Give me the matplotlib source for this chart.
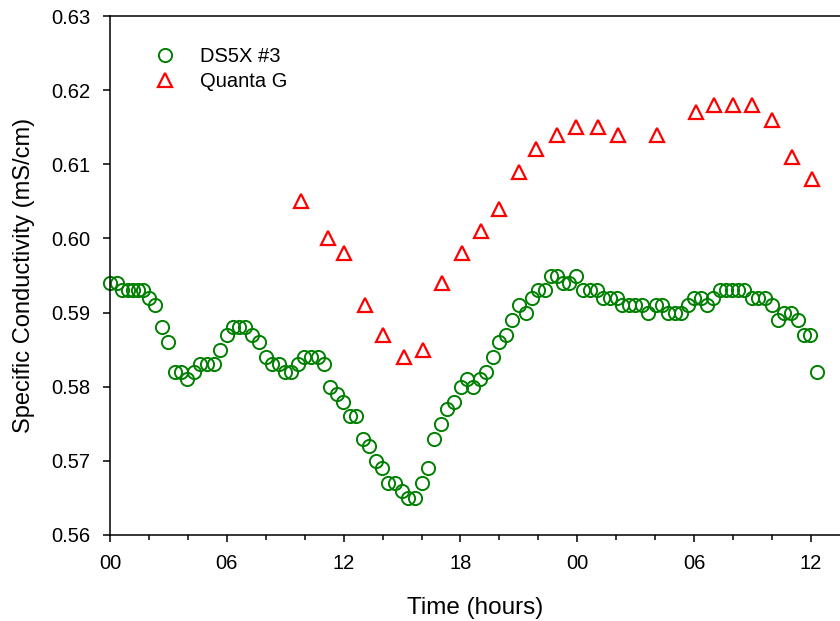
import numpy as np
import matplotlib
matplotlib.use("Agg")
import matplotlib.pyplot as plt
from matplotlib.ticker import MultipleLocator, FuncFormatter

plt.rcParams['font.family'] = ['Liberation Sans', 'DejaVu Sans']

# DS5X #3 - hours since start, specific conductivity (mS/cm)
ds5x_hours = [0.00, 0.34, 0.63, 0.91, 1.20, 1.45, 1.71, 2.00, 2.33, 2.66,
              2.96, 3.34, 3.65, 3.97, 4.31, 4.62, 4.97, 5.34, 5.65, 5.99,
              6.30, 6.63, 6.95, 7.29, 7.65, 8.00, 8.34, 8.66, 8.99, 9.30,
              9.64, 9.98, 10.32, 10.70, 11.01, 11.30, 11.64, 11.98, 12.33, 12.63,
              12.98, 13.32, 13.66, 13.97, 14.29, 14.64, 14.98, 15.32, 15.67, 16.01,
              16.32, 16.66, 16.99, 17.32, 17.67, 18.01, 18.32, 18.63, 19.00, 19.31,
              19.66, 19.99, 20.34, 20.66, 21.01, 21.35, 21.66, 22.00, 22.34, 22.65,
              22.97, 23.28, 23.59, 23.93, 24.31, 24.65, 25.00, 25.34, 25.68, 26.02,
              26.31, 26.66, 26.96, 27.31, 27.65, 28.03, 28.34, 28.67, 29.02, 29.33,
              29.67, 30.01, 30.35, 30.68, 30.99, 31.33, 31.64, 31.96, 32.27, 32.58,
              32.96, 33.30, 33.64, 33.99, 34.33, 34.63, 34.98, 35.32, 35.66, 35.95,
              36.30]
ds5x_sc = [0.594, 0.594, 0.593, 0.593, 0.593, 0.593, 0.593, 0.592, 0.591, 0.588,
           0.586, 0.582, 0.582, 0.581, 0.582, 0.583, 0.583, 0.583, 0.585, 0.587,
           0.588, 0.588, 0.588, 0.587, 0.586, 0.584, 0.583, 0.583, 0.582, 0.582,
           0.583, 0.584, 0.584, 0.584, 0.583, 0.580, 0.579, 0.578, 0.576, 0.576,
           0.573, 0.572, 0.570, 0.569, 0.567, 0.567, 0.566, 0.565, 0.565, 0.567,
           0.569, 0.573, 0.575, 0.577, 0.578, 0.580, 0.581, 0.580, 0.581, 0.582,
           0.584, 0.586, 0.587, 0.589, 0.591, 0.590, 0.592, 0.593, 0.593, 0.595,
           0.595, 0.594, 0.594, 0.595, 0.593, 0.593, 0.593, 0.592, 0.592, 0.592,
           0.591, 0.591, 0.591, 0.591, 0.590, 0.591, 0.591, 0.590, 0.590, 0.590,
           0.591, 0.592, 0.592, 0.591, 0.592, 0.593, 0.593, 0.593, 0.593, 0.593,
           0.592, 0.592, 0.592, 0.591, 0.589, 0.590, 0.590, 0.589, 0.587, 0.587,
           0.582]

# Quanta G
quanta_hours = [9.81, 11.18, 12.00, 13.08, 14.02, 15.08, 16.06, 17.07, 18.08, 19.04,
                20.00, 21.00, 21.90, 22.97, 23.95, 25.06, 26.08, 28.10, 30.10, 31.00,
                32.00, 32.96, 33.98, 35.03, 36.04]
quanta_sc = [0.605, 0.600, 0.598, 0.591, 0.587, 0.584, 0.585, 0.594, 0.598, 0.601,
             0.604, 0.609, 0.612, 0.614, 0.615, 0.615, 0.614, 0.614, 0.617, 0.618,
             0.618, 0.618, 0.616, 0.611, 0.608]

fig = plt.figure(figsize=(8.4, 6.21), dpi=100)
ax = fig.add_axes([110/840, 1 - 535/621, 730/840, 519/621])

ax.plot(ds5x_hours, ds5x_sc, 'o', ls='none', mfc='none', mec='#008000',
        ms=9.5, mew=1.4, label='DS5X #3', clip_on=False)
ax.plot(quanta_hours, quanta_sc, '^', ls='none', mfc='none', mec='#ff0000',
        ms=9.5, mew=1.6, label='Quanta G', clip_on=False)

ax.set_xlim(0, 730/19.47)
ax.set_ylim(0.56, 0.63)
ax.xaxis.set_major_locator(MultipleLocator(6))
ax.xaxis.set_minor_locator(MultipleLocator(2))
ax.xaxis.set_major_formatter(FuncFormatter(lambda v, p: '%02d' % (int(round(v)) % 24)))
ax.yaxis.set_major_locator(MultipleLocator(0.01))
ax.yaxis.set_major_formatter(FuncFormatter(lambda v, p: '%.2f' % v))

ax.spines['right'].set_visible(False)
for s in ['left', 'bottom', 'top']:
    ax.spines[s].set_linewidth(1.1)
ax.tick_params(axis='both', which='major', direction='out', length=5, width=1.1,
               labelsize=14.5)
ax.tick_params(axis='y', which='major', pad=9)
ax.tick_params(axis='x', which='minor', direction='out', length=3.5, width=1.1)
ax.tick_params(axis='x', which='major', pad=9)

ax.set_xlabel('Time (hours)', fontsize=17.5, labelpad=17)
ax.set_ylabel('Specific Conductivity (mS/cm)', fontsize=17, labelpad=12)

ax.legend(loc='upper left', bbox_to_anchor=(0.023, 0.975), frameon=False,
          numpoints=1, fontsize=14.5, handletextpad=0.75, labelspacing=0.3)

fig.savefig('out.png', dpi=100)
